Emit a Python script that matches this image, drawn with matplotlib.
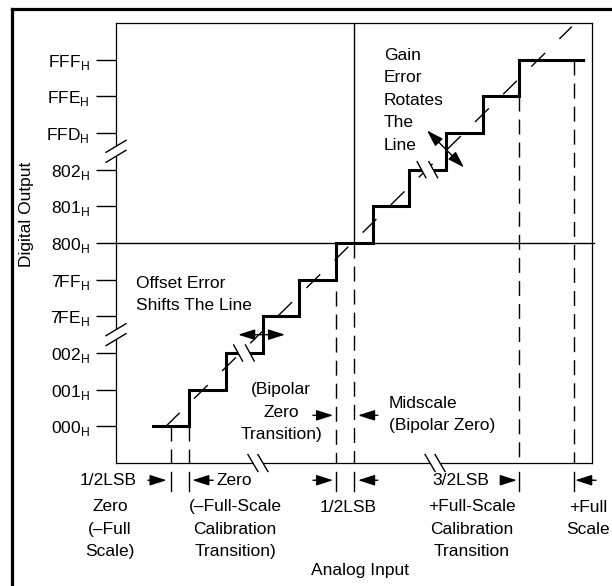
import numpy as np
import matplotlib
matplotlib.use("Agg")
import matplotlib.pyplot as plt
from matplotlib.lines import Line2D
from matplotlib.patches import Polygon

plt.rcParams['font.family'] = ['Liberation Sans', 'DejaVu Sans']
plt.rcParams['mathtext.fontset'] = 'custom'
plt.rcParams['mathtext.rm'] = 'Liberation Sans'
plt.rcParams['lines.scale_dashes'] = False

# output codes on the (broken) y axis, one slot per code
codes = ['000', '001', '002', '7FE', '7FF', '800', '801', '802', 'FFD', 'FFE', 'FFF']
levels = np.arange(len(codes))

# staircase: code transitions (in LSB along the analog axis)
step_x = [1, 2, 3, 4, 5, 6, 7, 8, 9, 10, 11, 12.74]
step_y = [0, 1, 2, 3, 4, 5, 6, 7, 8, 9, 10, 10]

# ideal straight transfer line
ideal_x = [1.36, 12.43]
ideal_y = [0.0, 10.9]

# dashed drop lines: x position and where the dashes start
drop_x = [1.5, 2.0, 6.0, 6.5, 11.0, 12.5]
drop_top = [0, 0, 3.7, 5, 9, 10]

# midscale cross
mid_x = 6.5
mid_y = 5

FS = 12.5
LS = 1.62

fig = plt.figure(figsize=(6.12, 5.86), dpi=100)
ax = fig.add_axes([116 / 612, 123 / 586, 476 / 612, 440 / 586])
ax.set_xlim(0, 12.98)
ax.set_ylim(-1, 11)

for s in ax.spines.values():
    s.set_linewidth(0.9)
ax.set_xticks([])
ax.set_yticks(levels)
ax.set_yticklabels([c + r'$_{\mathrm{H}}$' for c in codes])
ax.tick_params(axis='y', length=14.4, width=1.0, pad=4.3, labelsize=FS, direction='out')

# outer frame (only left and top are inside the picture)
fig.add_artist(Line2D([12 / 612, 12 / 612], [0, 1 - 9 / 586], color='k', lw=2.3,
                      transform=fig.transFigure))
fig.add_artist(Line2D([12 / 612, 1], [1 - 9 / 586, 1 - 9 / 586], color='k', lw=2.3,
                      transform=fig.transFigure))

# midscale cross lines
ax.plot([0, 13.04], [mid_y, mid_y], color='k', lw=1.0, clip_on=False, zorder=3)
ax.plot([mid_x, mid_x], [mid_y, 11], color='k', lw=1.0, zorder=3)

# dashed drop lines and the short solid ticks below the axis
for x, top in zip(drop_x, drop_top):
    ax.plot([x, x], [top, -1], color='k', lw=1.0, ls=(0, (10.8, 5.8)), zorder=3)
    ax.plot([x, x], [-1.25, -1.77], color='k', lw=1.0, clip_on=False, zorder=3)

# staircase
ax.step(step_x, step_y, where='post', color='k', lw=2.2, zorder=5,
        solid_joinstyle='miter')

# ideal line
ax.plot(ideal_x, ideal_y, color='k', lw=1.0, ls=(0, (13.9, 14.5)), zorder=6)


def break_mark(cx, cy, dx, dy, ox, oy):
    # two parallel strokes, the gap between them blanked out
    pts = [(cx - ox - dx, cy - oy - dy), (cx - ox + dx, cy - oy + dy),
           (cx + ox + dx, cy + oy + dy), (cx + ox - dx, cy + oy - dy)]
    ax.add_patch(Polygon(pts, closed=True, fc='white', ec='none', zorder=7, clip_on=False))
    for sg in (-1, 1):
        ax.plot([cx + sg * ox - dx, cx + sg * ox + dx], [cy + sg * oy - dy, cy + sg * oy + dy],
                color='k', lw=1.0, zorder=8, clip_on=False)


break_mark(0, 7.5, 0.273, 0.164, 0, 0.136)
break_mark(0, 2.5, 0.273, 0.164, 0, 0.136)
break_mark(3.87, -1, 0.136, -0.232, 0.136, 0)
break_mark(8.7, -1, 0.136, -0.232, 0.136, 0)
break_mark(3.49, 2, 0.12, -0.22, 0.16, 0)
break_mark(8.49, 7, 0.12, -0.22, 0.16, 0)


def arrow(x0, y0, x1, y1, both=False):
    style = '<|-|>' if both else '-|>'
    ax.annotate('', xy=(x1, y1), xytext=(x0, y0), annotation_clip=False,
                arrowprops=dict(arrowstyle=style + ',head_length=0.85,head_width=0.27',
                                mutation_scale=12, color='k', lw=1.0,
                                shrinkA=0, shrinkB=0), zorder=9)


arrow(3.33, 2.5, 4.61, 2.5, both=True)
arrow(8.48, 8.07, 9.49, 7.06, both=True)
arrow(5.37, 0.3, 5.92, 0.3)
arrow(7.14, 0.3, 6.6, 0.3)
arrow(0.87, -1.47, 1.38, -1.47)
arrow(2.65, -1.47, 2.08, -1.47)
arrow(5.37, -1.47, 5.92, -1.47)
arrow(7.14, -1.47, 6.6, -1.47)
arrow(10.5, -1.47, 10.93, -1.47)
arrow(13.09, -1.47, 12.52, -1.47)

kw = dict(fontsize=FS, linespacing=LS, clip_on=False)
ax.text(0.55, 3.6, 'Offset Error\nShifts The Line', ha='left', va='center', **kw)
ax.text(7.31, 8.89, 'Gain\nError\nRotates\nThe\nLine', ha='left', va='center', **kw)
ax.text(4.5, 0.38, '(Bipolar\nZero\nTransition)', ha='center', va='center', **kw)
ax.text(7.44, 0.33, 'Midscale\n(Bipolar Zero)', ha='left', va='center', **kw)

ax.text(0.57, -1.47, '1/2LSB', ha='right', va='center', **kw)
ax.text(-0.16, -2.81, 'Zero\n(\u2013Full\nScale)', ha='center', va='center', **kw)
ax.text(2.73, -1.47, 'Zero', ha='left', va='center', **kw)
ax.text(3.25, -2.81, '(\u2013Full-Scale\nCalibration\nTransition)', ha='center', va='center', **kw)
ax.text(6.33, -2.21, '1/2LSB', ha='center', va='center', **kw)
ax.text(10.17, -1.47, '3/2LSB', ha='right', va='center', **kw)
ax.text(9.71, -2.81, '+Full-Scale\nCalibration\nTransition', ha='center', va='center', **kw)
ax.text(12.87, -2.51, '+Full\nScale', ha='center', va='center', **kw)

ax.text(6.65, -3.93, 'Analog Input', ha='center', va='center', **kw)
ax.text(-2.43, 5.78, 'Digital Output', ha='center', va='center', rotation=90, **kw)

fig.savefig('out.png', dpi=100)
